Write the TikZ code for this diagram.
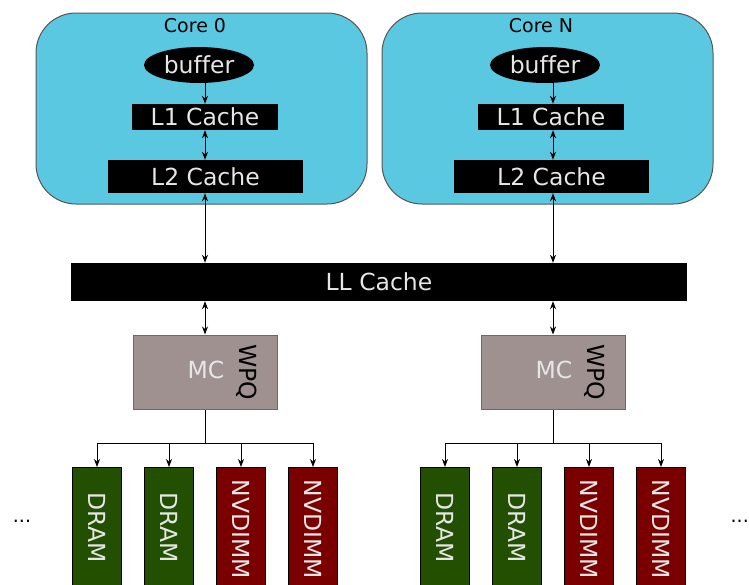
\documentclass[tikz,border=0pt]{standalone}
\usepackage{fontspec}
\setmainfont[Ligatures=NoCommon]{DejaVu Sans}
\usetikzlibrary{arrows.meta,shapes.geometric}
\definecolor{corefill}{HTML}{5BC8E2}
\definecolor{coreline}{HTML}{555555}
\definecolor{mcfill}{HTML}{A09191}
\definecolor{mcline}{HTML}{6A6A6A}
\definecolor{dramfill}{HTML}{225000}
\definecolor{nvfill}{HTML}{7A0000}
\definecolor{lighttext}{HTML}{E6E6E6}
\tikzset{
  x=1pt, y=-1pt,
  big/.style={font=\fontsize{23.5}{28}\selectfont},
  small/.style={font=\fontsize{19}{23}\selectfont},
  corebox/.style={draw=coreline, line width=1pt, fill=corefill, rounded corners=40pt},
  blackbox/.style={fill=black, text=lighttext, big, inner sep=0pt},
  buf/.style={ellipse, fill=black, text=lighttext, big, inner sep=0pt},
  mcbox/.style={draw=mcline, line width=1pt, fill=mcfill},
  dimm/.style={draw=black, line width=0.8pt, minimum width=49pt, minimum height=130pt, anchor=north},
  vlabel/.style={rotate=-90, text=lighttext, big, anchor=west},
  link/.style={line width=1pt},
  tip/.style={-{Stealth[length=8pt,width=6pt,inset=2.5pt]}, line width=1pt},
  bitip/.style={{Stealth[length=8pt,width=6pt,inset=2.5pt]}-{Stealth[length=8pt,width=6pt,inset=2.5pt]}, line width=1pt},
}
\begin{document}
\begin{tikzpicture}
\useasboundingbox (0,0) rectangle (749,584);
\clip (0,0) rectangle (749,584);

% ---- shared last-level cache ----
\node[blackbox, minimum width=616pt, minimum height=38pt] (llc) at (379,282) {LL Cache};

% ---- the two cores ----
\foreach \dx/\nm/\lbl in {0/a/Core 0, 346/b/Core N}{
  \begin{scope}[xshift=\dx pt]
    \draw[corebox] (36,13) rectangle (367,204);
    \node[small] (core\nm) at (195,26) {\lbl};
    \node[buf, minimum width=110pt, minimum height=36pt] (buf\nm) at (199,65) {buffer};
    \node[blackbox, minimum width=146pt, minimum height=26pt] (lone\nm) at (205,117) {L1 Cache};
    \node[blackbox, minimum width=195pt, minimum height=33pt] (ltwo\nm) at (205.5,176.5) {L2 Cache};
  \end{scope}
}

% ---- memory controllers and DIMMs under each core ----
\foreach \dx/\nm in {0/a, 348/b}{
  \begin{scope}[xshift=\dx pt]
    \node[mcbox, minimum width=144pt, minimum height=74pt] (mc\nm) at (205,372) {};
    \node[text=lighttext, big] (mct\nm) at (206,370) {MC};
    \node[rotate=-90, big] (wpq\nm) at (247,372) {WPQ};

    \node[dimm, fill=dramfill] (d1\nm) at (97,467) {};
    \node[dimm, fill=dramfill] (d2\nm) at (169,467) {};
    \node[dimm, fill=nvfill] (d3\nm) at (241,467) {};
    \node[dimm, fill=nvfill] (d4\nm) at (313,467) {};
    \node[vlabel] (t1\nm) at (97,489) {DRAM};
    \node[vlabel] (t2\nm) at (169,489) {DRAM};
    \node[vlabel] (t3\nm) at (241,476) {NVDIMM};
    \node[vlabel] (t4\nm) at (313,476) {NVDIMM};

    \coordinate (fork\nm) at (205,443);
  \end{scope}
}

% ---- vertical links through the cache hierarchy ----
\foreach \nm/\cx in {a/205, b/553}{
  \draw[tip] (buf\nm.south -| \cx,0) -- (lone\nm.north -| \cx,0);
  \draw[bitip] (lone\nm.south -| \cx,0) -- (ltwo\nm.north -| \cx,0);
  \draw[bitip] (ltwo\nm.south -| \cx,0) -- (llc.north -| \cx,0);
  \draw[bitip] (llc.south -| \cx,0) -- (mc\nm.north -| \cx,0);
}

% ---- memory controller to DIMMs ----
\foreach \nm in {a,b}{
  \draw[link] (mc\nm.south) -- (mc\nm.south |- fork\nm);
  \draw[link] (d1\nm.north |- fork\nm) -- (d4\nm.north |- fork\nm);
  \foreach \k in {1,2,3,4}{
    \draw[tip] (d\k\nm.north |- fork\nm) -- (d\k\nm.north);
  }
}

\node[small] (dotsl) at (22,521) {...};
\node[small, anchor=east, inner sep=0pt] (dotsr) at (749,521) {...};
\end{tikzpicture}
\end{document}
